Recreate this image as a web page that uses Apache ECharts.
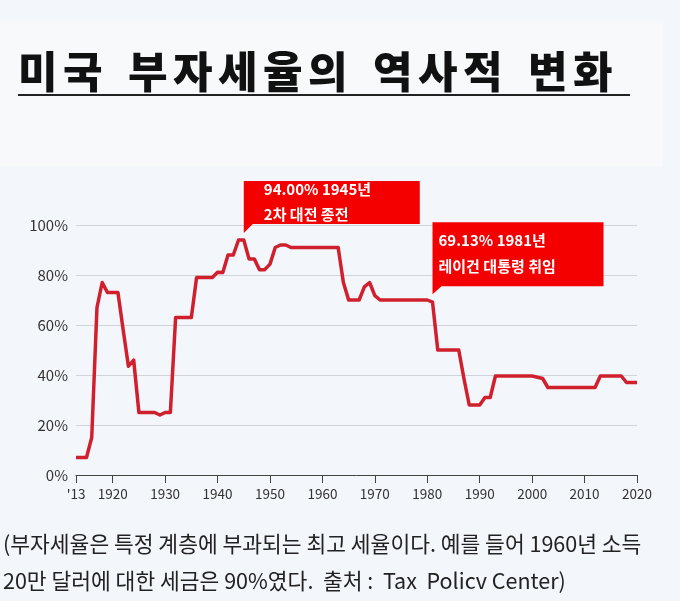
<!DOCTYPE html>
<html>
<head>
<meta charset="utf-8">
<script src="https://cdn.jsdelivr.net/npm/echarts@6/dist/echarts.min.js"></script>
<style>
  html, body { margin: 0; padding: 0; background: #f3f6fa; }
  #chart { width: 680px; height: 601px; }
</style>
</head>
<body>
<div id="chart"></div>
<script>
// 미국 최고 소득세율 (%), 1913 ~ 2020
const startYear = 1913
const topRates = [
    7, 7, 7, 15, 67, 77, 73, 73, 73, 58,            // 1913-1922
    43.5, 46, 25, 25, 25, 25, 24, 25, 25, 63,       // 1923-1932
    63, 63, 63, 79, 79, 79, 79, 81.1, 81, 88,       // 1933-1942
    88, 94, 94, 86.45, 86.45, 82.13, 82.13, 84.36, 91, 92, // 1943-1952
    92, 91, 91, 91, 91, 91, 91, 91, 91, 91,         // 1953-1962
    91, 77, 70, 70, 70, 75.25, 77, 71.75, 70, 70,   // 1963-1972
    70, 70, 70, 70, 70, 70, 70, 70, 69.13, 50,      // 1973-1982
    50, 50, 50, 50, 38.5, 28, 28, 28, 31, 31,       // 1983-1992
    39.6, 39.6, 39.6, 39.6, 39.6, 39.6, 39.6, 39.6, 39.1, 38.6, // 1993-2002
    35, 35, 35, 35, 35, 35, 35, 35, 35, 35,         // 2003-2012
    39.6, 39.6, 39.6, 39.6, 39.6, 37, 37, 37        // 2013-2020
]
const xTicks = [1913, 1920, 1930, 1940, 1950, 1960, 1970, 1980, 1990, 2000, 2010, 2020]

const notes = [
    { year: 1945, value: 94, text: "2차 대전 종전" },
    { year: 1981, value: 69.13, text: "레이건 대통령 취임" }
]

const titleText = "미국 부자세율의 역사적 변화"
const footText = "(부자세율은 특정 계층에 부과되는 최고 세율이다. 예를 들어 1960년 소득\n20만 달러에 대한 세금은 90%였다.  출처 :  Tax  Policv Center)"

const seriesData = topRates.map((v, i) => [startYear + i, v])
const KR = "'Noto Sans CJK KR', 'Noto Sans', sans-serif"

// 제목은 글자 간격을 넓히려고 글자마다 rich 조각으로 나눔
const titleRich = titleText.split("").map(ch => ch === " " ? "{s| }" : `{c|${ch}}`).join("")

// 말풍선 모양 (왼쪽 아래 꼬리)
const bubble = (w, h, tail) =>
    `path://M0,0 L${w},0 L${w},${h} L9,${h} L0,${h + tail} Z`

const boxes = [
    { w: 176, h: 43, tail: 9, gap: 7, pad: [20, -4], lh: 25 },
    { w: 171, h: 64, tail: 8, gap: 8, pad: [6, 5], lh: 26 }
]

const chart = echarts.init(document.getElementById("chart"))

chart.setOption({
    backgroundColor: "#f3f6fa",
    animation: false,
    textStyle: { fontFamily: KR },
    graphic: [
        { type: "rect", left: 0, top: 22, shape: { width: 663, height: 144 },
          style: { fill: "#f8f9fb" }, z: -1 },
        { type: "text", left: 18, top: 50,
          style: {
              text: titleRich,
              fill: "#111",
              rich: {
                  c: { width: 45, fontSize: 43, fontWeight: 900, fontFamily: KR, color: "#111" },
                  s: { width: 20, fontSize: 43 }
              }
          } },
        { type: "line", shape: { x1: 18, y1: 95, x2: 630, y2: 95 },
          style: { stroke: "#222", lineWidth: 2 } },
        { type: "text", left: 3, top: 525,
          style: { text: footText, font: `21.5px ${KR}`, fill: "#222", lineHeight: 37 } }
    ],
    grid: { left: 76, right: 43, top: 225, bottom: 126 },
    xAxis: {
        type: "value",
        min: startYear,
        max: 2020,
        axisLine: { lineStyle: { color: "#444", width: 1 } },
        axisTick: { show: true, length: 8, customValues: xTicks, lineStyle: { color: "#444" } },
        axisLabel: {
            customValues: xTicks,
            color: "#333",
            fontSize: 13.5,
            margin: 12,
            formatter: v => v === startYear ? "'13" : String(v)
        },
        splitLine: { show: false }
    },
    yAxis: {
        type: "value",
        min: 0,
        max: 100,
        interval: 20,
        axisLine: { show: false },
        axisTick: { show: false },
        axisLabel: { color: "#333", fontSize: 15, margin: 8, formatter: v => v + "%" },
        splitLine: { lineStyle: { color: "#d0d3d8", width: 1 } }
    },
    series: [{
        type: "line",
        data: seriesData,
        symbol: "none",
        lineStyle: { color: "#d0202e", width: 3.5, join: "round" },
        markPoint: {
            silent: true,
            data: notes.map((n, i) => {
                const b = boxes[i]
                return {
                    coord: [n.year, n.value],
                    symbol: bubble(b.w, b.h, b.tail),
                    symbolSize: [b.w, b.h + b.tail],
                    symbolOffset: [b.w / 2, -(b.h + b.tail) / 2 - b.gap],
                    itemStyle: { color: "#f40000" },
                    label: {
                        show: true,
                        position: b.pad,
                        align: "left",
                        verticalAlign: "top",
                        color: "#fff",
                        fontWeight: "bold",
                        fontSize: 15,
                        lineHeight: b.lh,
                        formatter: () => `${n.value.toFixed(2)}% ${n.year}년\n${n.text}`
                    }
                }
            })
        }
    }]
})
</script>
</body>
</html>
